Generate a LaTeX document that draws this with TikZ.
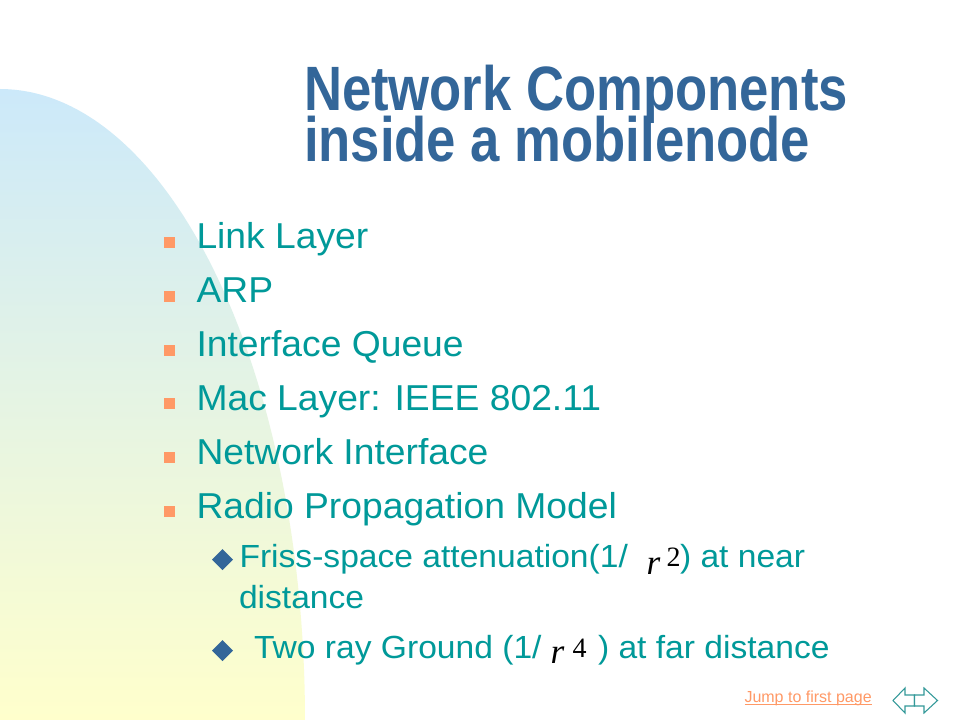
\documentclass[tikz,border=0pt]{standalone}
\usepackage{fontspec}
\setmainfont{Liberation Sans}
\newfontfamily\titlefont[FakeStretch=0.84]{Liberation Sans}
\newfontfamily\bodyfont[FakeStretch=1.035]{Liberation Sans}
\newfontfamily\subfont[FakeStretch=1.05]{Liberation Sans}
\newfontfamily\eqfont{Liberation Serif}
\definecolor{titleblue}{RGB}{51,102,153}
\definecolor{bodyteal}{RGB}{0,153,153}
\definecolor{bulletorange}{RGB}{255,153,102}
\definecolor{bgblue}{RGB}{204,233,250}
\definecolor{bgyellow}{RGB}{255,255,204}
\definecolor{navteal}{RGB}{51,153,153}
\tikzset{
  txt/.style={anchor=base west, inner sep=0pt, outer sep=0pt},
  titletxt/.style={txt, text=titleblue, font=\titlefont\bfseries\fontsize{47pt}{47pt}\selectfont},
  bodytxt/.style={txt, text=bodyteal, font=\bodyfont\fontsize{27pt}{30pt}\selectfont},
  subtxt/.style={txt, text=bodyteal, font=\subfont\fontsize{24pt}{28pt}\selectfont},
  eqr/.style={txt, text=black, font=\eqfont\itshape\fontsize{26.5pt}{28pt}\selectfont},
  eqexp/.style={txt, text=black, font=\eqfont\fontsize{21pt}{24pt}\selectfont},
  sqbullet/.style={fill=bulletorange, draw=none},
  dmbullet/.style={fill=titleblue, draw=none},
  navarrow/.style={draw=navteal, line width=0.8pt, fill=white, line join=miter},
  linktxt/.style={txt, text=bulletorange, font=\fontsize{12pt}{14pt}\selectfont}
}
\begin{document}
\begin{tikzpicture}[x=0.75pt, y=-0.75pt]
\useasboundingbox (0,0) rectangle (960,720);
\fill[white] (0,0) rectangle (960,720);
% background gradient shape
\shade[top color=bgblue, bottom color=bgyellow, draw=none]
  (0,89) -- plot[domain=0:90, samples=120] ({305*sin(\x)}, {720-631*cos(\x)}) -- (305,720) -- (0,720) -- cycle;
% title
\node[titletxt] (t1) at (304,110.5) {Network Components};
\node[titletxt] (t2) at (304,161.7) {inside a mobilenode};
% main bullets
\foreach \yy/\nm/\tx in {249/b1/Link Layer, 302.8/b2/ARP, 356.6/b3/Interface Queue, 410.4/b4/Mac Layer: IEEE 802.11, 464.2/b5/Network Interface, 518/b6/Radio Propagation Model}{
  \fill[sqbullet] (164,\yy-12) rectangle (175,\yy-1);
  \node[bodytxt] (\nm) at (196.5,\yy) {\tx};
}
% sub bullets
\fill[dmbullet] (212,559.5) -- (222.5,549) -- (233,559.5) -- (222.5,570) -- cycle;
\fill[dmbullet] (212,650.5) -- (222.5,640) -- (233,650.5) -- (222.5,661) -- cycle;
\node[subtxt] (s1a) at (239.5,567) {Friss-space attenuation(1/};
\node[eqr] (r1) at (646.5,574) {r};
\node[eqexp] (e1) at (666.5,566.5) {2};
\node[subtxt] (s1b) at (680,567) {) at near};
\node[subtxt] (s1c) at (239,608) {distance};
\node[subtxt] (s2a) at (254,658) {Two ray Ground (1/};
\node[eqr] (r2) at (550.5,663) {r};
\node[eqexp] (e2) at (572.5,657) {4};
\node[subtxt] (s2b) at (598,658) {) at far distance};
% link
\node[linktxt] (jump) at (744.5,702.5) {Jump to first page};
\draw[bulletorange, line width=0.75pt] ([yshift=-1.5pt]jump.base west) -- ([yshift=-1.5pt]jump.base east);
% navigation arrows
\draw[navarrow] (893,700.5) -- (905,688) -- (905,695) -- (914.5,695) -- (914.5,706) -- (905,706) -- (905,713) -- cycle;
\draw[navarrow] (937.5,700.5) -- (924,688) -- (924,695) -- (914.5,695) -- (914.5,706) -- (924,706) -- (924,713) -- cycle;
\end{tikzpicture}
\end{document}
